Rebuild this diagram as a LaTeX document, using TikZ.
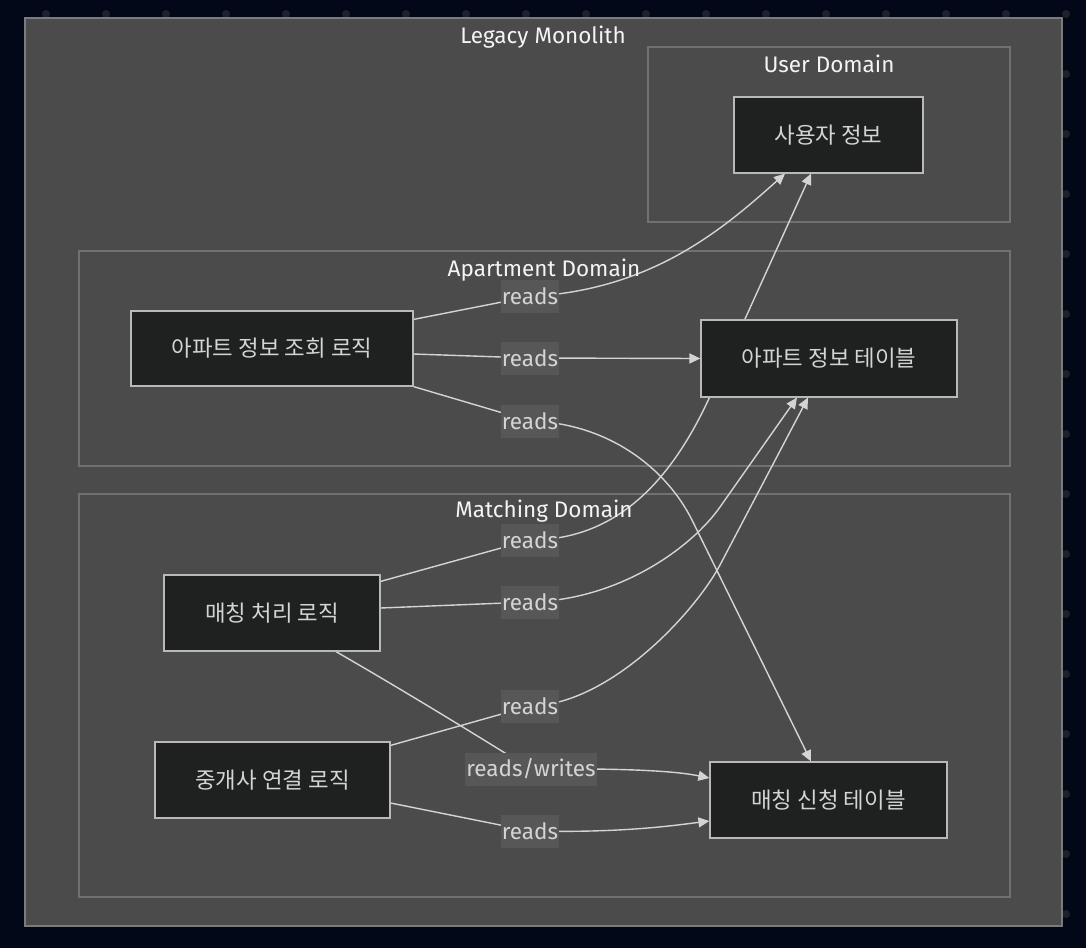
\documentclass[tikz,border=0pt]{standalone}
\usepackage{fontspec}
\setmainfont{Fira Sans}
\newfontfamily\kr{Noto Sans CJK KR}
\usetikzlibrary{arrows.meta}
\definecolor{bgc}{RGB}{2,8,23}
\definecolor{dotc}{RGB}{30,33,42}
\definecolor{clfill}{RGB}{74,75,74}
\definecolor{clouter}{RGB}{122,123,122}
\definecolor{clinner}{RGB}{112,113,112}
\definecolor{nodefill}{RGB}{31,32,32}
\definecolor{nodeline}{RGB}{185,185,185}
\definecolor{ntext}{RGB}{212,212,212}
\definecolor{ttext}{RGB}{244,244,244}
\definecolor{edgec}{RGB}{212,212,212}
\definecolor{lblfill}{RGB}{86,87,86}
\pgfdeclarelayer{bglayer}
\pgfdeclarelayer{edgelayer}
\pgfsetlayers{bglayer,edgelayer,main}
\begin{document}
\begin{tikzpicture}[x=1pt,y=-1pt,
  box/.style={draw=nodeline, fill=nodefill, line width=1.2pt, text=ntext,
    font=\kr\fontsize{22.4}{26}\selectfont, inner sep=0pt},
  cluster/.style={draw=clinner, fill=clfill, line width=1.2pt},
  ctitle/.style={text=ttext, font=\fontsize{22.5}{26}\selectfont, inner sep=0pt, anchor=base},
  edge/.style={draw=edgec, line width=1.4pt, -{Triangle[length=11pt,width=10pt]}},
  lbl/.style={fill=lblfill, text=ntext, font=\fontsize{22.5}{26}\selectfont,
    minimum height=33pt, inner xsep=1pt, inner ysep=0pt, minimum width=55pt}]
\useasboundingbox (0,0) rectangle (1086,948);
\begin{pgfonlayer}{bglayer}
  \fill[bgc] (0,0) rectangle (1086,948);
  \foreach \i in {0,...,17} \foreach \j in {0,...,15}
    \fill[dotc] ({46+60*\i},{14+60*\j}) circle (4pt);
  \draw[cluster, draw=clouter] (25,18) rectangle (1062,926);
  \draw[cluster] (648,47) rectangle (1010,222);
  \draw[cluster] (79,251) rectangle (1010,466);
  \draw[cluster] (79,494) rectangle (1010,897);
\end{pgfonlayer}
% cluster titles
\node[ctitle] (tLM) at (543,43) {Legacy Monolith};
\node[ctitle] (tUD) at (829,72) {User Domain};
\node[ctitle] (tAD) at (544,276) {Apartment Domain};
\node[ctitle] (tMD) at (544,517) {Matching Domain};
% nodes
\node[box, minimum width=189pt, minimum height=76pt] (U) at (828.5,135) {사용자 정보};
\node[box, minimum width=282pt, minimum height=75pt] (AL) at (272,348.5) {아파트 정보 조회 로직};
\node[box, minimum width=256pt, minimum height=77pt] (AT) at (829,358.5) {아파트 정보 테이블};
\node[box, minimum width=216pt, minimum height=76pt] (ML) at (272,613) {매칭 처리 로직};
\node[box, minimum width=235pt, minimum height=76pt] (BL) at (272.5,780) {중개사 연결 로직};
\node[box, minimum width=237pt, minimum height=76pt] (MT) at (828.5,800) {매칭 신청 테이블};
% edge labels
\node[lbl] (l1) at (530,296.5) {reads};
\node[lbl] (l2) at (530,358) {reads};
\node[lbl] (l3) at (530,421) {reads};
\node[lbl] (l4) at (530,540) {reads};
\node[lbl] (l5) at (530,602) {reads};
\node[lbl] (l6) at (530,706) {reads};
\node[lbl, minimum width=130pt] (l7) at (531,769) {reads/writes};
\node[lbl] (l8) at (530,831) {reads};
% edges
\begin{pgfonlayer}{edgelayer}
  \draw[edge] ([yshift=-9pt]AL.north east) -- (l1.center)
     .. controls (650,290) and (720,232) .. ([xshift=-43.5pt]U.south);
  \draw[edge] ([yshift=-5.5pt]AL.east) -- (l2.center) -- (AT.west);
  \draw[edge] (AL.south east) -- (l3.center)
     .. controls (610,423) and (667,470) .. (692,520) -- ([xshift=-17.5pt]MT.north);
  \draw[edge] ([yshift=-7pt]ML.north east) -- (l4.center)
     .. controls (610,540) and (670,490) .. (715,385) -- ([xshift=-17.5pt]U.south);
  \draw[edge] ([yshift=5pt]ML.east) -- (l5.center)
     .. controls (620,600) and (692,547) .. (720,507) -- ([xshift=-32pt]AT.south);
  \draw[edge] ([yshift=-4pt]BL.north east) -- (l6.center)
     .. controls (610,705) and (695,612) .. (720,565) -- ([xshift=-21pt]AT.south);
  \draw[edge] ([xshift=64pt]ML.south) .. controls (420,700) and (500,750) .. (l7.center)
     .. controls (640,768) and (680,772) .. ([yshift=22pt]MT.west);
  \draw[edge] ([yshift=-23pt]BL.east) -- (l8.center)
     .. controls (620,833) and (670,826) .. ([yshift=-21pt]MT.west);
\end{pgfonlayer}
\end{tikzpicture}
\end{document}
